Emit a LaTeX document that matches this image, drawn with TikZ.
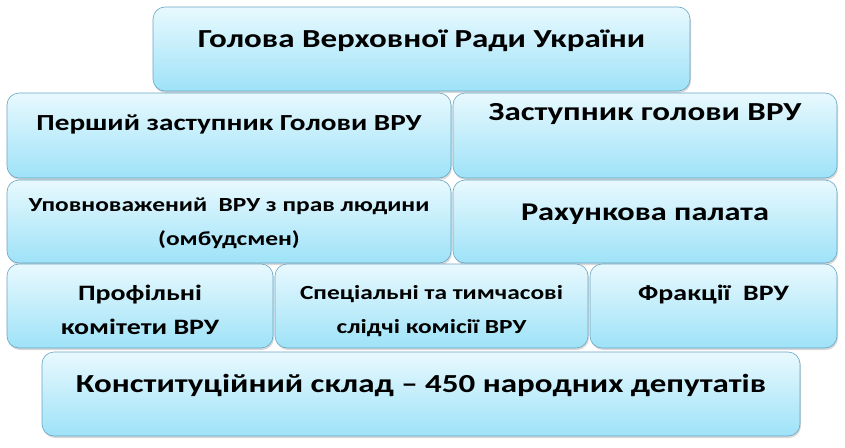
\documentclass[tikz,border=0pt]{standalone}
\usepackage{fontspec}
\setmainfont{Carlito}[FakeStretch=1.27]
\usepackage{tikz}
\usetikzlibrary{positioning,shadows}

\definecolor{paneltop}{RGB}{232,249,254}
\definecolor{panelbottom}{RGB}{158,226,248}
\definecolor{frame}{RGB}{105,165,195}

\begin{document}
\begin{tikzpicture}[
			x=1pt, y=-1pt,
			panel/.style={rectangle, rounded corners=12pt, draw=frame, line width=0.6pt, top color=paneltop, bottom color=panelbottom, inner sep=0pt,
				drop shadow={opacity=0.3, shadow xshift=1pt, shadow yshift=-2pt}},
			caption/.style={align=center, inner sep=0pt, anchor=base, font=\bfseries\fontsize{#1}{34}\selectfont}
		]
		\useasboundingbox (0,0) rectangle (845,447);

		% Panels
		\node (chair) [panel, minimum width=537pt, minimum height=84pt] at (421.5,49) {};
		\node (firstdep) [panel, minimum width=444pt, minimum height=85pt] at (229,135.5) {};
		\node (deputy) [panel, minimum width=384pt, minimum height=85pt] at (645,135.5) {};
		\node (ombuds) [panel, minimum width=444pt, minimum height=83pt] at (229,221.5) {};
		\node (audit) [panel, minimum width=384pt, minimum height=83pt] at (645,221.5) {};
		\node (committees) [panel, minimum width=266pt, minimum height=84pt] at (140,306) {};
		\node (inquiry) [panel, minimum width=313pt, minimum height=84pt] at (431.5,306) {};
		\node (factions) [panel, minimum width=247pt, minimum height=84pt] at (713.5,306) {};
		\node (deputies) [panel, minimum width=758pt, minimum height=84pt] at (421,394) {};

		% Texts
		\node (chairtxt) [caption=26] at (chair.center |- 0,47) {Голова Верховної Ради України};
		\node (firstdeptxt) [caption=23] at (firstdep.center |- 0,130) {Перший заступник Голови ВРУ};
		\node (deputytxt) [caption=26] at (deputy.center |- 0,120) {Заступник голови ВРУ};
		\node (ombudstxt) [caption=20] at (ombuds.center |- 0,245) {Уповноважений\ \ ВРУ з прав людини\\(омбудсмен)};
		\node (audittxt) [caption=25.5] at (audit.center |- 0,220) {Рахункова палата};
		\begin{scope}
			\clip (committees.north west) rectangle (committees.east |- 0,335);
			\node (committeestxt) [caption=22] at (committees.center |- 0,334) {Профільні\\комітети ВРУ};
		\end{scope}
		\node (inquirytxt) [caption=20] at (inquiry.center |- 0,333) {Спеціальні та тимчасові\\слідчі комісії ВРУ};
		\node (factionstxt) [caption=22] at (factions.center |- 0,300) {Фракції\ \ ВРУ};
		\node (deputiestxt) [caption=26] at (deputies.center |- 0,392) {Конституційний склад – 450 народних депутатів};

	\end{tikzpicture}
\end{document}
